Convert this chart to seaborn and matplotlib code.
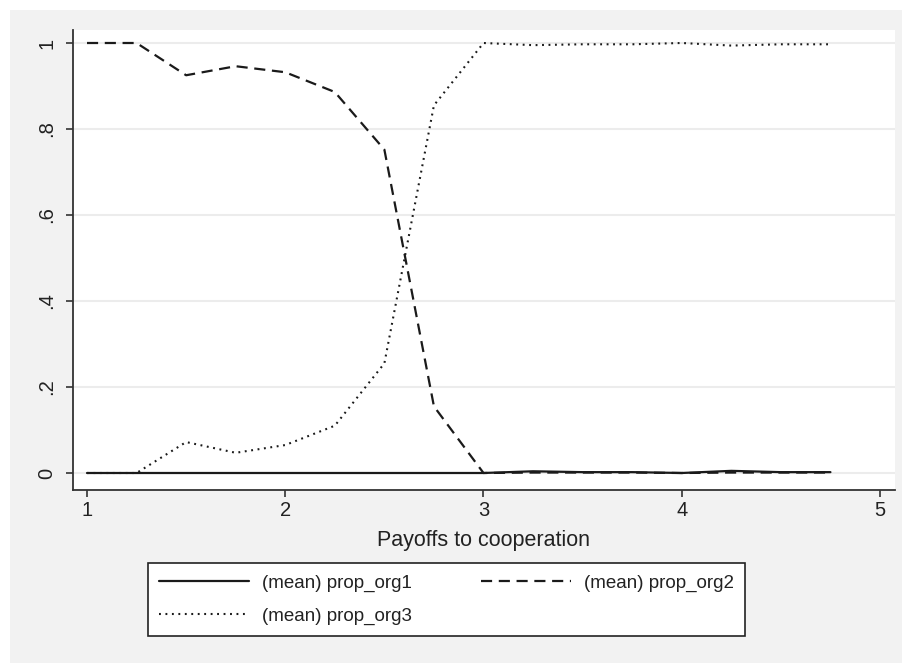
import numpy as np
import pandas as pd
import matplotlib
matplotlib.use("Agg")
import matplotlib.pyplot as plt
from matplotlib.patches import Rectangle
import seaborn as sns

# payoff grid and mean proportions
payoff = [1.0, 1.25, 1.5, 1.75, 2.0, 2.25, 2.5, 2.75, 3.0, 3.25, 3.5, 3.75, 4.0, 4.25, 4.5, 4.75]
prop_org1 = [0, 0, 0, 0, 0, 0, 0, 0, 0, 0.004, 0.002, 0.002, 0.0, 0.005, 0.002, 0.002]
prop_org2 = [1.0, 1.0, 0.925, 0.946, 0.932, 0.886, 0.752, 0.155, 0.0, 0.001, 0.001, 0.001, 0.0, 0.001, 0.001, 0.001]
prop_org3 = [0.0, 0.0, 0.072, 0.047, 0.065, 0.11, 0.255, 0.855, 1.0, 0.995, 0.997, 0.997, 1.0, 0.994, 0.997, 0.997]
labels = ["(mean) prop_org1", "(mean) prop_org2", "(mean) prop_org3"]
yticks = [0, 0.2, 0.4, 0.6, 0.8, 1.0]
ytick_labels = ["0", ".2", ".4", ".6", ".8", "1"]
xticks = [1, 2, 3, 4, 5]

sns.set_style("white")
plt.rcParams['font.family'] = ['Liberation Sans', 'DejaVu Sans']
fs = 14.5

df = pd.DataFrame({'payoff': payoff, 'org1': prop_org1, 'org2': prop_org2, 'org3': prop_org3})

W, H = 903, 663
fig = plt.figure(figsize=(W / 100, H / 100), dpi=100)
fig.patch.set_facecolor('white')
fig.patches.append(Rectangle((10 / W, 0), 1, 1 - 10 / H, transform=fig.transFigure,
                             facecolor='#f2f2f2', edgecolor='none', zorder=-10))

ax = fig.add_axes([73 / W, (H - 490) / H, (895 - 73) / W, (490 - 30) / H])
ax.set_facecolor('white')

line_col = '#1a1a1a'
sns.lineplot(data=df, x='payoff', y='org1', ax=ax, color=line_col, lw=1.6, label=labels[0])
sns.lineplot(data=df, x='payoff', y='org2', ax=ax, color=line_col, lw=1.6,
             linestyle=(0, (5, 3)), label=labels[1])
sns.lineplot(data=df, x='payoff', y='org3', ax=ax, color=line_col, lw=1.5,
             linestyle=(0, (0.9, 2.2)), label=labels[2])

ax.set_xlim(1 - 14 / 198.25, 1 + 808 / 198.25)
ax.set_ylim(-17 / 430, 1 + 13 / 430)
ax.set_yticks(yticks)
ax.set_yticklabels(ytick_labels, rotation=90, va='center')
ax.set_xticks(xticks)
ax.grid(axis='y', color='#ececec', lw=1.5)
ax.set_axisbelow(True)
for s in ['top', 'right']:
    ax.spines[s].set_visible(False)
for s in ['left', 'bottom']:
    ax.spines[s].set_color('#333333')
    ax.spines[s].set_linewidth(1.3)
ax.tick_params(axis='both', direction='out', length=5, width=1.2, color='#333333',
               labelsize=fs, labelcolor='#222222', left=True, bottom=True)
ax.tick_params(axis='y', pad=7)
ax.tick_params(axis='x', pad=3)
ax.set_xlabel('Payoffs to cooperation', fontsize=15.5, color='#222222', labelpad=7)
ax.set_ylabel('')

# legend filled row by row: org1, org2 / org3
handles, labs = ax.get_legend_handles_labels()
ax.get_legend().remove()
order = [0, 2, 1]
leg = fig.legend([handles[i] for i in order], [labs[i] for i in order],
                 loc='upper left', ncol=2, mode='expand',
                 bbox_to_anchor=(148 / W, (H - 563) / H, (745 - 148) / W, 0),
                 fontsize=13.5, frameon=True, fancybox=False, handlelength=4.8,
                 handletextpad=0.7, borderaxespad=0, borderpad=0.6, labelspacing=0.85)
leg.get_frame().set_edgecolor('#222222')
leg.get_frame().set_linewidth(1.2)
leg.get_frame().set_facecolor('white')
leg.get_frame().set_alpha(1)
for t in leg.get_texts():
    t.set_color('#222222')

fig.savefig('out.png', dpi=100)
